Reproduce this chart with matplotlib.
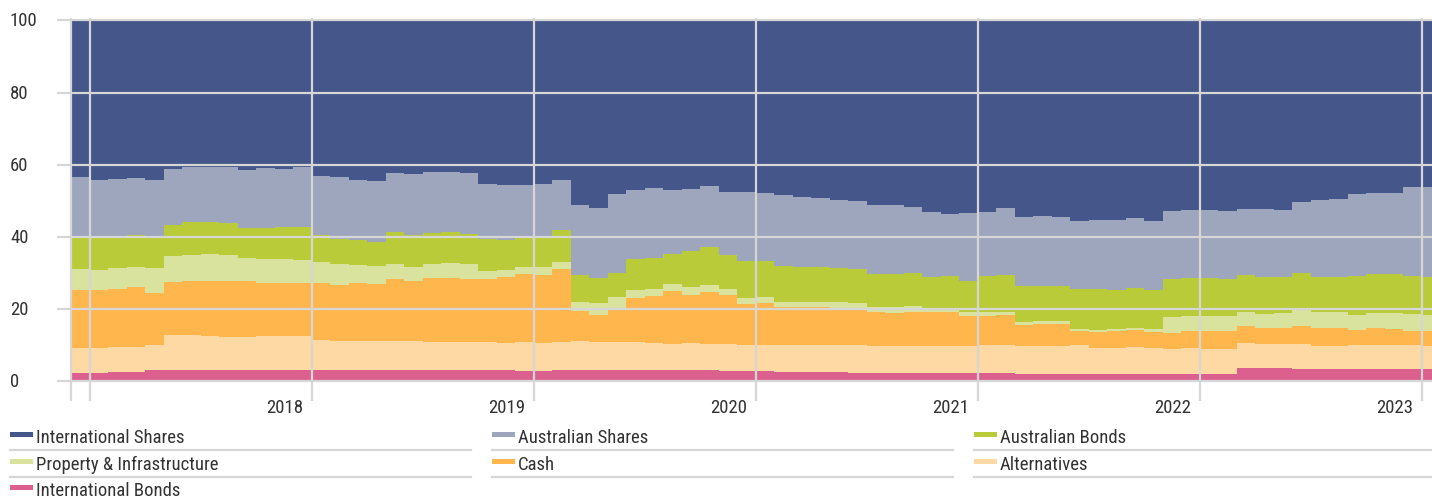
import os
import matplotlib
matplotlib.use("Agg")
import matplotlib.pyplot as plt
import numpy as np
import pandas as pd
from matplotlib import transforms
from matplotlib import font_manager as fm
from matplotlib.patches import Rectangle
from matplotlib.lines import Line2D

# monthly asset allocation (%), Dec 2016 .. Jan 2023
months = pd.date_range("2016-12-01", periods=74, freq="MS")

intl_bonds = [2.4, 2.4, 2.5, 2.6, 3.2, 3.2, 3.2, 3.1, 3.0, 3.0,
              3.1, 3.1, 3.1, 3.0, 3.0, 3.0, 3.0, 3.0, 3.0, 3.0,
              3.0, 3.0, 3.0, 3.0, 2.9, 2.9, 3.1, 3.1, 3.1, 3.0,
              3.0, 3.0, 3.0, 3.0, 3.0, 2.9, 2.9, 2.8, 2.7, 2.7,
              2.6, 2.5, 2.4, 2.3, 2.3, 2.3, 2.3, 2.3, 2.3, 2.2,
              2.2, 2.1, 2.1, 2.1, 2.1, 2.1, 2.1, 2.1, 2.0, 1.9,
              1.9, 1.9, 1.9, 3.6, 3.6, 3.6, 3.5, 3.3, 3.3, 3.3,
              3.4, 3.4, 3.3, 3.3]
alternatives = [6.9, 6.9, 7.0, 7.0, 6.9, 9.6, 9.5, 9.4, 9.3, 9.3,
                9.4, 9.4, 9.5, 8.5, 8.2, 8.2, 8.2, 8.2, 8.1, 7.9,
                7.9, 7.9, 7.8, 7.7, 8.0, 7.8, 7.9, 8.2, 7.8, 7.9,
                7.8, 7.6, 7.4, 7.5, 7.4, 7.3, 7.2, 7.3, 7.4, 7.4,
                7.4, 7.5, 7.6, 7.5, 7.5, 7.5, 7.5, 7.5, 7.4, 7.9,
                7.9, 7.8, 7.8, 7.8, 8.0, 7.2, 7.2, 7.3, 7.1, 7.0,
                7.2, 7.1, 7.0, 7.0, 6.7, 6.7, 6.7, 6.5, 6.6, 6.7,
                6.7, 6.7, 6.7, 6.5]
cash = [16.0, 15.9, 16.2, 16.5, 14.4, 14.6, 15.0, 15.4, 15.4, 15.4,
        14.7, 14.7, 14.5, 15.6, 15.6, 16.0, 15.7, 17.0, 16.6, 17.6,
        17.7, 17.5, 17.6, 18.1, 18.7, 18.7, 20.0, 8.1, 7.5, 9.4,
        12.2, 13.0, 14.5, 13.4, 14.3, 13.7, 11.3, 11.6, 10.6, 10.4,
        10.5, 10.3, 10.1, 9.3, 9.2, 9.4, 9.5, 9.5, 8.5, 8.1,
        8.3, 5.6, 5.9, 6.0, 3.8, 4.4, 4.5, 4.7, 4.6, 4.5,
        4.8, 5.0, 5.1, 4.6, 4.5, 4.6, 5.2, 5.0, 4.9, 4.1,
        4.7, 4.4, 4.0, 4.2]
property_infra = [5.9, 5.6, 5.6, 5.6, 7.0, 7.3, 7.3, 7.3, 7.4, 6.4,
                  6.6, 6.6, 6.6, 5.9, 5.7, 5.0, 5.0, 4.2, 4.1, 4.1,
                  4.2, 4.0, 2.2, 2.0, 2.0, 2.2, 2.0, 2.5, 3.2, 3.0,
                  2.3, 1.9, 2.0, 2.2, 2.1, 1.8, 1.6, 1.6, 1.4, 1.5,
                  1.5, 1.6, 1.6, 1.5, 1.6, 1.6, 1.1, 0.8, 0.9, 0.9,
                  0.8, 0.9, 0.9, 0.8, 0.7, 0.6, 0.6, 0.7, 0.7, 4.4,
                  4.2, 4.2, 4.2, 3.9, 3.9, 4.0, 4.4, 4.5, 4.4, 4.3,
                  4.1, 4.5, 4.6, 4.4]
aus_bonds = [8.8, 8.9, 8.5, 8.8, 8.2, 8.7, 9.0, 8.8, 8.7, 8.4,
             8.8, 8.9, 9.0, 7.4, 7.0, 7.0, 6.6, 8.9, 8.7, 8.6,
             8.6, 8.5, 8.7, 8.4, 8.1, 8.1, 8.8, 7.5, 7.0, 6.8,
             8.5, 8.6, 8.5, 10.1, 10.3, 9.2, 10.3, 10.1, 9.8, 9.7,
             9.6, 9.4, 9.4, 9.2, 9.2, 9.1, 8.6, 9.0, 8.8, 10.1,
             10.2, 10.0, 9.8, 9.8, 11.0, 11.2, 10.9, 11.1, 10.9, 10.5,
             10.5, 10.4, 10.2, 10.3, 10.2, 10.0, 10.1, 9.5, 9.7, 10.7,
             10.8, 10.6, 10.6, 10.5]
aus_shares = [16.5, 16.2, 16.3, 15.7, 16.2, 15.5, 15.5, 15.5, 15.7, 15.9,
              16.4, 16.0, 16.6, 16.6, 17.1, 16.7, 17.0, 16.4, 16.8, 16.9,
              16.6, 16.7, 15.3, 15.2, 14.8, 15.0, 13.9, 19.5, 19.5, 21.9,
              19.2, 19.4, 17.5, 17.0, 16.9, 17.5, 19.1, 18.8, 19.6, 19.3,
              19.1, 19.0, 18.9, 19.1, 18.9, 18.3, 17.9, 17.3, 18.7, 17.6,
              18.6, 19.2, 19.3, 19.0, 18.8, 19.1, 19.5, 19.2, 19.0, 18.9,
              18.8, 18.9, 18.7, 18.4, 18.8, 18.6, 19.7, 21.5, 21.5, 22.7,
              22.4, 22.5, 24.7, 24.8]
intl_shares = [43.5, 44.1, 43.9, 43.8, 44.1, 41.1, 40.5, 40.5, 40.5, 41.6,
               41.0, 41.3, 40.7, 43.0, 43.4, 44.1, 44.5, 42.3, 42.7, 41.9,
               42.0, 42.4, 45.4, 45.6, 45.5, 45.3, 44.3, 51.1, 51.9, 48.0,
               47.0, 46.5, 47.1, 46.8, 46.0, 47.6, 47.6, 47.8, 48.5, 49.0,
               49.3, 49.7, 50.0, 51.1, 51.3, 51.8, 53.1, 53.6, 53.4, 53.2,
               52.0, 54.4, 54.2, 54.5, 55.6, 55.4, 55.2, 54.9, 55.7, 52.8,
               52.6, 52.5, 52.9, 52.2, 52.3, 52.5, 50.4, 49.7, 49.6, 48.2,
               47.9, 47.9, 46.1, 46.3]

# bottom to top stacking order
series = [
    ("International Bonds", intl_bonds, "#db608e"),
    ("Alternatives", alternatives, "#fed9a3"),
    ("Cash", cash, "#ffb64d"),
    ("Property & Infrastructure", property_infra, "#d9e39d"),
    ("Australian Bonds", aus_bonds, "#b9cb38"),
    ("Australian Shares", aus_shares, "#9ea6be"),
    ("International Shares", intl_shares, "#45568a"),
]
colors = dict((name, c) for name, _, c in series)

legend_rows = [
    ["International Shares", "Australian Shares", "Australian Bonds"],
    ["Property & Infrastructure", "Cash", "Alternatives"],
    ["International Bonds"],
]


def narrow_font():
    # look for a regular condensed / narrow sans face
    skip = ("bold", "light", "thin", "black", "medium", "italic", "oblique",
            "extra", "ultra", "semi", "mono", "serif", "cjk")
    found = []
    for f in fm.fontManager.ttflist:
        base = os.path.basename(f.fname).lower()
        st = str(f.stretch).lower()
        if not ("condensed" in base or "narrow" in base or "condensed" in st):
            continue
        if any(k in base for k in skip) or f.style != "normal":
            continue
        found.append(f)
    order = ["roboto", "liberation", "dejavu", "noto", "open", "lato", "inter"]

    def rank(f):
        n = f.name.lower()
        for i, k in enumerate(order):
            if k in n:
                return i
        return len(order)
    found.sort(key=rank)
    if found:
        return fm.FontProperties(fname=found[0].fname, size=13.5)
    return fm.FontProperties(family="DejaVu Sans", stretch="condensed",
                             size=13.5)


W, H = 1432, 502
GRID = "#d6d6d6"
TEXT = "#333333"
font = narrow_font()

fig = plt.figure(figsize=(W / 100, H / 100), dpi=100)
px_month = 18.5
x_left = -(71 - 57) / px_month
ax = fig.add_axes([57 / W, (H - 384.1) / H, 1 - 57 / W, 365.1 / H])

# step areas, one month per step
x = np.arange(len(months) + 1)
ys = [np.append(v, v[-1]) for _, v, _ in series]
ax.stackplot(x, *ys, colors=[c for _, _, c in series], step="post",
             linewidth=0, zorder=1)

ax.set_xlim(x_left, x_left + (W - 57) / px_month)
ax.set_ylim(-0.5, 100.64)
for s in ax.spines.values():
    s.set_visible(False)

# gridlines sit on top of the areas
for yv in range(0, 101, 20):
    ax.axhline(yv, color=GRID, lw=1.6, zorder=3)
jan = [i for i, m in enumerate(months) if m.month == 1]
xticks = [0] + jan
ax.set_xticks(xticks)
ax.set_xticklabels([])
ax.set_yticks([])
ax.tick_params(axis="x", length=13, width=1.6, color=GRID, direction="out")
for xv in xticks:
    ax.axvline(xv, color=GRID, lw=1.6, zorder=3)

# y labels, left aligned at the figure edge
ytrans = transforms.blended_transform_factory(fig.transFigure, ax.transData)
for yv in range(0, 101, 20):
    ax.text(10 / W, yv, str(yv), transform=ytrans, ha="left", va="center",
            color=TEXT, fontproperties=font)

# year labels sit just left of each January line
xtrans = transforms.blended_transform_factory(ax.transData, fig.transFigure)
for i in jan[1:]:
    ax.text(i - 8 / px_month, (H - 408) / H, str(months[i].year),
            transform=xtrans, ha="right", va="center", color=TEXT,
            fontproperties=font)

# legend: three columns, underlined rows
col_x = [10, 492, 974]
col_end = [471, 953, 1432]
row_y = [438, 465, 491]
for r, row in enumerate(legend_rows):
    for c, name in enumerate(row):
        yc = row_y[r]
        fig.add_artist(Rectangle((col_x[c] / W, (H - yc + 0.5) / H),
                                 23 / W, 5 / H, transform=fig.transFigure,
                                 color=colors[name], lw=0))
        fig.text((col_x[c] + 26) / W, (H - yc) / H, name, ha="left",
                 va="center", color=TEXT, fontproperties=font)
        yl = (H - yc - 13) / H
        fig.add_artist(Line2D([col_x[c] / W, col_end[c] / W], [yl, yl],
                              transform=fig.transFigure, color=GRID, lw=1.6))

fig.savefig("out.png", dpi=100)
